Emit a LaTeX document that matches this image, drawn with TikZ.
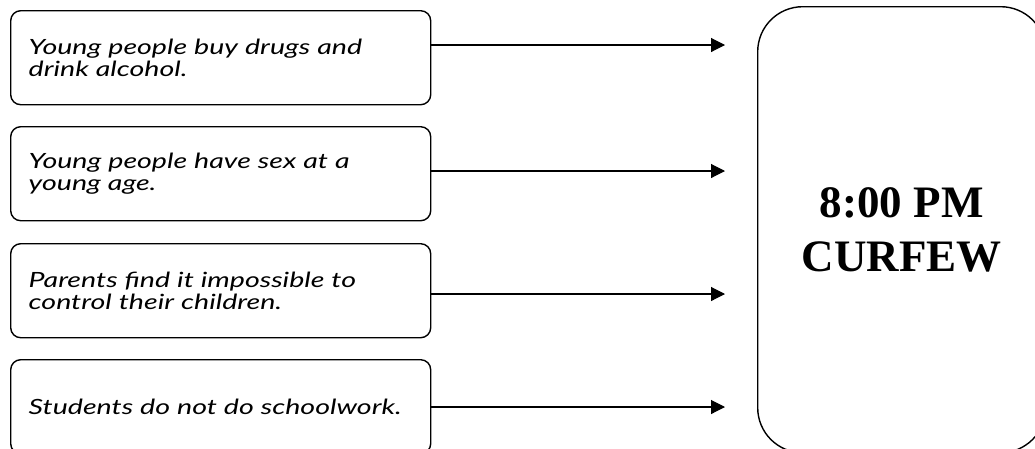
\documentclass[tikz,border=0pt]{standalone}
\usepackage{fontspec}
\setmainfont{Liberation Serif}
\newfontfamily\handfont[FakeStretch=1.36]{Lato Italic}
\usetikzlibrary{arrows.meta}
\begin{document}
\begin{tikzpicture}[x=1pt,y=-1pt,
  cause/.style={draw,line width=1.4pt,rounded corners=10pt,
    minimum width=420pt,minimum height=94pt,text width=384pt,
    inner xsep=18pt,align=left,anchor=north west,
    font=\handfont\fontsize{21}{22}\selectfont},
  result/.style={draw,line width=1.4pt,rounded corners=45pt,
    minimum width=288pt,minimum height=446pt,align=center,anchor=north west,
    font=\bfseries\fontsize{45}{54}\selectfont},
  arr/.style={line width=1.1pt,-{Triangle[length=14pt,width=14pt]},shorten >=32pt}]
\useasboundingbox (0,0) rectangle (1035,448);
\node[cause] (b1) at (10,10)  {Young people buy drugs and\\drink alcohol.};
\node[cause] (b2) at (10,126) {Young people have sex at a\\young age.};
\node[cause] (b3) at (10,243) {Parents find it impossible to\\control their children.};
\node[cause] (b4) at (10,359) {Students do not do schoolwork.};
\node[result] (cur) at (757,6) {8:00 PM\\CURFEW};
\coordinate (y1) at (0,45);
\coordinate (y2) at (0,171);
\coordinate (y3) at (0,294);
\coordinate (y4) at (0,407);
\draw[arr] (b1.east |- y1) -- (cur.west |- y1);
\draw[arr] (b2.east |- y2) -- (cur.west |- y2);
\draw[arr] (b3.east |- y3) -- (cur.west |- y3);
\draw[arr] (b4.east |- y4) -- (cur.west |- y4);
\end{tikzpicture}
\end{document}
